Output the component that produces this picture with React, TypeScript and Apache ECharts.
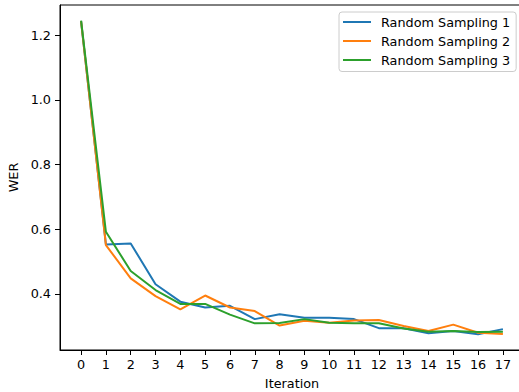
import React, { useEffect, useRef } from "react";
import * as echarts from "echarts";

const iterations = [0, 1, 2, 3, 4, 5, 6, 7, 8, 9, 10, 11, 12, 13, 14, 15, 16, 17];
const seriesNames = ["Random Sampling 1", "Random Sampling 2", "Random Sampling 3"];
const sampling1 = [1.243, 0.553, 0.556, 0.430, 0.376, 0.358, 0.363, 0.322, 0.337, 0.326, 0.326, 0.322, 0.294, 0.294, 0.278, 0.285, 0.275, 0.291];
const sampling2 = [1.243, 0.551, 0.448, 0.393, 0.352, 0.395, 0.358, 0.347, 0.302, 0.317, 0.311, 0.318, 0.319, 0.301, 0.285, 0.305, 0.280, 0.276];
const sampling3 = [1.245, 0.592, 0.471, 0.412, 0.369, 0.369, 0.336, 0.309, 0.310, 0.322, 0.311, 0.309, 0.309, 0.293, 0.283, 0.285, 0.282, 0.283];
const yTicks = [0.4, 0.6, 0.8, 1.0, 1.2];
const colors = ["#1f77b4", "#ff7f0e", "#2ca02c"];

const FONT = "DejaVu Sans";

export default function App() {
  const ref = useRef<HTMLDivElement>(null);
  useEffect(() => {
    if (!ref.current) return;
    const chart = echarts.init(ref.current, undefined, { renderer: "svg" });
    const all = [sampling1, sampling2, sampling3];
    chart.setOption({
      animation: false,
      backgroundColor: "#ffffff",
      grid: {
        left: 60,
        top: 5,
        right: 0,
        bottom: 42,
        containLabel: false,
        outerBoundsMode: "none",
        show: true,
        borderColor: "#000",
        borderWidth: 1,
        backgroundColor: "transparent",
      },
      legend: {
        orient: "vertical",
        left: 339,
        top: 12,
        align: "left",
        icon: "path://M0,0 L28,0 L28,2 L0,2 Z",
        symbolKeepAspect: true,
        itemWidth: 28,
        itemHeight: 14,
        itemGap: 6,
        padding: [3.5, 6, 5, 4],
        backgroundColor: "rgba(255,255,255,0.8)",
        borderColor: "#cccccc",
        borderWidth: 1,
        borderRadius: 3,
        textStyle: { fontSize: 12.8, color: "#000", fontFamily: FONT, padding: [0, 0, 0, 5] },
        data: seriesNames,
      },
      xAxis: {
        type: "value",
        min: -0.85,
        max: 17.85,
        name: "Iteration",
        nameLocation: "middle",
        nameGap: 27,
        nameTextStyle: { fontSize: 12.8, color: "#000", fontFamily: FONT },
        axisLine: { show: true, onZero: false, lineStyle: { color: "#000", width: 1 } },
        axisTick: { show: true, length: 5, customValues: iterations, lineStyle: { color: "#000" } },
        axisLabel: {
          customValues: iterations,
          margin: 8,
          fontSize: 12.8,
          color: "#000",
          fontFamily: FONT,
          formatter: (v: number) => String(Math.round(v)),
        },
        splitLine: { show: false },
      },
      yAxis: {
        type: "value",
        min: (v: any) => v.min - 0.05 * (v.max - v.min),
        max: (v: any) => v.max + 0.05 * (v.max - v.min),
        name: "WER",
        nameLocation: "middle",
        nameGap: 30,
        nameTextStyle: { fontSize: 12.8, color: "#000", fontFamily: FONT },
        axisLine: { show: true, onZero: false, lineStyle: { color: "#000", width: 1 } },
        axisTick: { show: true, length: 5, customValues: yTicks, lineStyle: { color: "#000" } },
        axisLabel: {
          customValues: yTicks,
          margin: 9,
          fontSize: 12.8,
          color: "#000",
          fontFamily: FONT,
          formatter: (v: number) => v.toFixed(1),
        },
        splitLine: { show: false },
      },
      series: all.map((vals, i) => ({
        name: seriesNames[i],
        type: "line",
        symbol: "none",
        color: colors[i],
        lineStyle: { width: 2, color: colors[i] },
        data: iterations.map((x, j) => [x, vals[j]]),
      })),
    });
    return () => chart.dispose();
  }, []);
  return (
    <div style={{ position: "absolute", left: 0, top: 0, width: 519, height: 392, overflow: "hidden", background: "#fff" }}>
      <div ref={ref} style={{ width: 524, height: 392 }} />
    </div>
  );
}
